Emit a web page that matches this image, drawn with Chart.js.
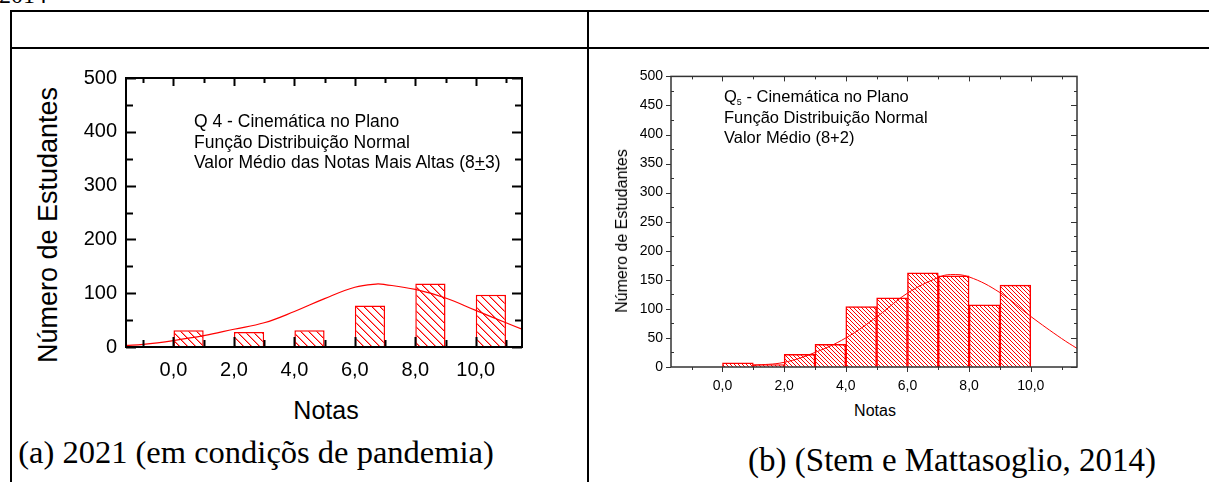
<!DOCTYPE html>
<html><head><meta charset="utf-8">
<script src="https://cdn.jsdelivr.net/npm/chart.js@4/dist/chart.umd.min.js"></script>
<style>
html,body{margin:0;padding:0;background:#fff}
body{width:1209px;height:482px;position:relative;overflow:hidden;font-family:'Liberation Sans',Arial,sans-serif;color:#000}
.ln{position:absolute;background:#000}
.t{position:absolute;white-space:nowrap;line-height:1}
.c{transform:translate(-50%,-50%)}
.r{transform:translate(-50%,-50%) rotate(-90deg)}
.serif{font-family:'Liberation Serif','Times New Roman',serif}
canvas{position:absolute}
.ann{position:absolute;white-space:nowrap}
.ann div{height:20.5px;line-height:20.5px}
sub{font-size:9px;line-height:0;vertical-align:-3px}
</style></head><body>

<div class="t serif" style="left:-1px;top:-17px;font-size:24px">2014</div>
<div class="ln" style="left:10px;top:10px;width:1199px;height:2px"></div>
<div class="ln" style="left:10px;top:47px;width:1199px;height:2px"></div>
<div class="ln" style="left:10px;top:10px;width:2px;height:472px"></div>
<div class="ln" style="left:587px;top:10px;width:2px;height:472px"></div>

<canvas id="c1" width="468" height="330" style="left:66px;top:57px"></canvas>
<canvas id="c2" width="461" height="342" style="left:626px;top:60px"></canvas>

<div class="t r" style="left:48px;top:225px;font-size:27px">Número de Estudantes</div>
<div class="t c" style="left:326px;top:410px;font-size:25px">Notas</div>
<div class="ann" style="left:194px;top:111px;font-size:17.5px"><div>Q 4 - Cinemática no Plano</div><div>Função Distribuição Normal</div><div>Valor Médio das Notas Mais Altas (8<u>+</u>3)</div></div>

<div class="t r" style="left:622px;top:231px;font-size:16px">Número de Estudantes</div>
<div class="t c" style="left:875px;top:411px;font-size:16px">Notas</div>
<div class="ann" style="left:724px;top:86px;font-size:16.5px"><div>Q<sub>5</sub> - Cinemática no Plano</div><div>Função Distribuição Normal</div><div>Valor Médio (8+2)</div></div>

<div class="t serif c" style="left:256px;top:452px;font-size:32.5px">(a) 2021 (em condiçõs de pandemia)</div>
<div class="t serif c" style="left:952px;top:460px;font-size:33px">(b) (Stem e Mattasoglio, 2014)</div>

<script>
// ---- data: (a) 2021 ----
const aBinStart = [0, 2, 4, 6, 8, 10];
const aBinWidth = 1;
const aCounts = [31, 28, 31, 77, 118, 97];
const aCurveX = [-1.57, -1, 0, 1, 2, 3, 4, 5, 6, 6.7, 7, 8, 9, 10, 11, 11.53];
const aCurveY = [3, 5, 12, 21, 33, 45, 66, 90, 111, 117, 116, 107, 91, 68, 45, 33];
const aXTicks = [0, 2, 4, 6, 8, 10];
const aYTicks = [0, 100, 200, 300, 400, 500];

// ---- data: (b) Stem e Mattasoglio ----
const bBinStart = [0, 1, 2, 3, 4, 5, 6, 7, 8, 9];
const bBinWidth = 1;
const bCounts = [7, 4, 22, 39, 104, 119, 162, 157, 107, 141];
const bCurveX = [1, 2, 3, 4, 5, 6, 7, 7.4, 8, 9, 10, 11, 11.5];
const bCurveY = [3, 8, 25, 50, 86, 127, 154, 159, 155, 128, 87, 49, 32];
const bXTicks = [0, 2, 4, 6, 8, 10];
const bYTicks = [0, 50, 100, 150, 200, 250, 300, 350, 400, 450, 500];

function hatch(step, soft) {
  const c = document.createElement('canvas');
  c.width = step; c.height = step;
  const g = c.getContext('2d');
  g.fillStyle = '#ffffff'; g.fillRect(0, 0, step, step);
  for (let i = 0; i < step; i++) {
    g.fillStyle = 'rgb(255,0,0)';
    g.fillRect(i, i, 1, 1);
    if (soft) {
      g.fillStyle = 'rgba(255,0,0,0.45)';
      g.fillRect((i + 1) % step, i, 1, 1);
    }
  }
  return g.createPattern(c, 'repeat');
}

const fmtX = v => Number(v).toFixed(1).replace('.', ',');

function framePlugin(o) {
  return {
    id: 'frame',
    afterDatasetsDraw(chart) {
      const { ctx, chartArea: a, scales } = chart;
      const x = scales.x, y = scales.y;
      ctx.save();
      ctx.strokeStyle = o.color;
      ctx.lineWidth = o.tickW;
      const seg = (x1, y1, x2, y2) => { ctx.beginPath(); ctx.moveTo(x1, y1); ctx.lineTo(x2, y2); ctx.stroke(); };
      for (let v = y.min; v <= y.max + 1e-9; v += o.yMinor) {
        const p = Math.round(y.getPixelForValue(v)) + 0.5;
        const major = Math.abs(v % o.yMajor) < 1e-9;
        const L = major ? o.L.major : o.L.minor;
        const R = major ? o.R.major : o.R.minor;
        seg(a.left, p, a.left + L, p);
        seg(a.right, p, a.right - R, p);
      }
      for (let v = Math.ceil(x.min); v <= x.max; v += 1) {
        const p = Math.round(x.getPixelForValue(v)) + 0.5;
        const major = v % 2 === 0;
        const T = major ? o.T.major : o.T.minor;
        const B = major ? o.B.major : o.B.minor;
        seg(p, a.top, p, a.top + T);
        seg(p, a.bottom, p, a.bottom - B);
      }
      ctx.lineWidth = o.axisW;
      ctx.strokeRect(a.left, a.top, a.right - a.left, a.bottom - a.top);
      ctx.restore();
    }
  };
}

function makeChart(id, d) {
  const bars = d.binStart.map((s, i) => ({ x: s + d.binWidth / 2, y: d.counts[i] }));
  const curve = d.curveX.map((v, i) => ({ x: v, y: d.curveY[i] }));
  return new Chart(document.getElementById(id), {
    type: 'bar',
    data: {
      datasets: [
        { type: 'line', data: curve, borderColor: '#ff0000', borderWidth: d.curveW, pointRadius: 0, tension: 0.4, fill: false, order: 0 },
        { type: 'bar', data: bars, backgroundColor: hatch(d.hatchStep, d.soft), borderColor: '#ff0000', borderWidth: 1.5, borderSkipped: 'bottom', categoryPercentage: 1, barPercentage: d.barPct, order: 1 }
      ]
    },
    options: {
      responsive: false, animation: false, devicePixelRatio: 1,
      layout: { padding: d.padding },
      plugins: { legend: { display: false }, tooltip: { enabled: false } },
      scales: {
        x: {
          type: 'linear', min: d.xMin, max: d.xMax, offset: false,
          grid: { display: false, drawTicks: false }, border: { display: false },
          afterBuildTicks: s => { s.ticks = d.xTicks.map(v => ({ value: v })); },
          afterFit: s => { s.height = d.xH; },
          ticks: { callback: v => fmtX(v), color: '#000', padding: d.xPad, maxRotation: 0, autoSkip: false, font: { family: "'Liberation Sans', Arial, sans-serif", size: d.tickSize } }
        },
        y: {
          min: 0, max: 500,
          grid: { display: false, drawTicks: false }, border: { display: false },
          afterBuildTicks: s => { s.ticks = d.yTicks.map(v => ({ value: v })); },
          afterFit: s => { s.width = d.yW; },
          ticks: { color: '#000', padding: d.yPad, autoSkip: false, font: { family: "'Liberation Sans', Arial, sans-serif", size: d.tickSize } }
        }
      }
    },
    plugins: [framePlugin(d.frame)]
  });
}

makeChart('c1', {
  binStart: aBinStart, binWidth: aBinWidth, counts: aCounts, curveX: aCurveX, curveY: aCurveY,
  xTicks: aXTicks, yTicks: aYTicks, xMin: -1.57, xMax: 11.53,
  padding: { top: 12, right: 12, left: 0, bottom: 0 }, xH: 40, yW: 60, xPad: 11, yPad: 9, tickSize: 20,
  hatchStep: 8, soft: true, barPct: 0.5, curveW: 1.2,
  frame: { color: '#000', axisW: 2, tickW: 2, yMajor: 100, yMinor: 50,
    L: { major: 10, minor: 7 }, R: { major: 10, minor: 7 }, T: { major: 8, minor: 5 }, B: { major: 10, minor: 7 } }
});

makeChart('c2', {
  binStart: bBinStart, binWidth: bBinWidth, counts: bCounts, curveX: bCurveX, curveY: bCurveY,
  xTicks: bXTicks, yTicks: bYTicks, xMin: -1.67, xMax: 11.5,
  padding: { top: 10, right: 10, left: 0, bottom: 0 }, xH: 35, yW: 45, xPad: 11, yPad: 8, tickSize: 14,
  hatchStep: 4, soft: false, barPct: 1, curveW: 1,
  frame: { color: '#333', axisW: 1.5, tickW: 1, yMajor: 50, yMinor: 25,
    L: { major: -5, minor: 3 }, R: { major: 6, minor: 3 }, T: { major: 5, minor: 3 }, B: { major: -5, minor: -3 } }
});
</script>
</body></html>
